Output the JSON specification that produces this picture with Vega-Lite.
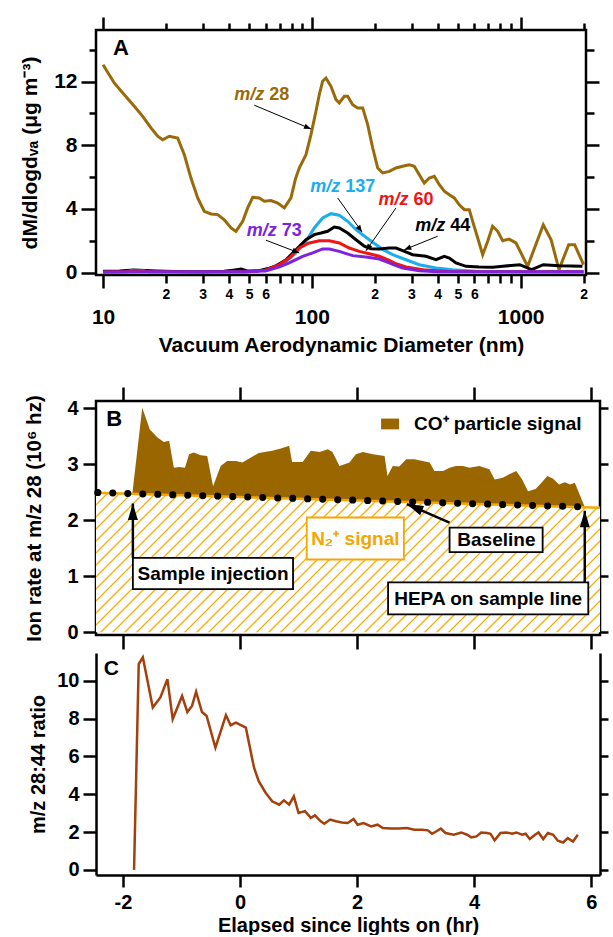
{
"$schema": "https://vega.github.io/schema/vega-lite/v6.json",
"background": "white",
"padding": {"left": 18, "top": 14, "right": 0, "bottom": 0},
"spacing": 27,
"config": {
  "font": "Liberation Sans",
  "view": {"stroke": "black", "strokeWidth": 2.5},
  "axis": {"grid": false, "domain": false, "labelFont": "Liberation Sans", "titleFont": "Liberation Sans", "labelFontWeight": "bold", "titleFontWeight": "bold", "labelColor": "black", "titleColor": "black", "tickColor": "black", "domainColor": "black", "tickWidth": 2.5, "domainWidth": 2.5, "labelFontSize": 20, "titleFontSize": 20, "labelOverlap": false, "labelFlush": false, "labelBound": false},
  "text": {"font": "Liberation Sans", "fontWeight": "bold"}
},
"datasets": {
  "A": [
    {"s":"m/z 28","d":10,"v":13.07},{"s":"m/z 28","d":11.31,"v":11.92},{"s":"m/z 28","d":12.64,"v":11.18},{"s":"m/z 28","d":14.11,"v":10.45},{"s":"m/z 28","d":15.48,"v":9.82},{"s":"m/z 28","d":16.96,"v":9.09},{"s":"m/z 28","d":18.26,"v":8.57},{"s":"m/z 28","d":19.29,"v":8.35},{"s":"m/z 28","d":20.76,"v":8.57},{"s":"m/z 28","d":22.77,"v":8.46},{"s":"m/z 28","d":24.49,"v":7.41},{"s":"m/z 28","d":26.36,"v":5.94},{"s":"m/z 28","d":28.39,"v":4.69},{"s":"m/z 28","d":30.52,"v":3.85},{"s":"m/z 28","d":32.87,"v":3.68},{"s":"m/z 28","d":35.39,"v":3.64},{"s":"m/z 28","d":38.07,"v":3.32},{"s":"m/z 28","d":40.99,"v":2.8},{"s":"m/z 28","d":43.3,"v":2.59},{"s":"m/z 28","d":46.64,"v":3.22},{"s":"m/z 28","d":49.27,"v":4.06},{"s":"m/z 28","d":52.07,"v":4.73},{"s":"m/z 28","d":55.99,"v":4.69},{"s":"m/z 28","d":59.16,"v":4.48},{"s":"m/z 28","d":63.7,"v":4.52},{"s":"m/z 28","d":68.6,"v":4.37},{"s":"m/z 28","d":73.8,"v":4.06},{"s":"m/z 28","d":79.4,"v":4.69},{"s":"m/z 28","d":83.5,"v":5.9},{"s":"m/z 28","d":87,"v":6.57},{"s":"m/z 28","d":93.7,"v":7.41},{"s":"m/z 28","d":99,"v":8.67},{"s":"m/z 28","d":104.6,"v":10.14},{"s":"m/z 28","d":108.5,"v":11.18},{"s":"m/z 28","d":112.6,"v":12.03},{"s":"m/z 28","d":116.8,"v":12.23},{"s":"m/z 28","d":123.4,"v":11.71},{"s":"m/z 28","d":130.5,"v":10.87},{"s":"m/z 28","d":135.3,"v":10.66},{"s":"m/z 28","d":143,"v":11.08},{"s":"m/z 28","d":148.4,"v":11.08},{"s":"m/z 28","d":156.8,"v":10.55},{"s":"m/z 28","d":165.7,"v":10.35},{"s":"m/z 28","d":175.1,"v":10.35},{"s":"m/z 28","d":185,"v":9.3},{"s":"m/z 28","d":195.6,"v":7.83},{"s":"m/z 28","d":206.7,"v":6.57},{"s":"m/z 28","d":218.3,"v":6.26},{"s":"m/z 28","d":234.8,"v":6.36},{"s":"m/z 28","d":252.8,"v":6.57},{"s":"m/z 28","d":272.2,"v":6.68},{"s":"m/z 28","d":292.7,"v":6.78},{"s":"m/z 28","d":309.3,"v":6.68},{"s":"m/z 28","d":326.9,"v":6.15},{"s":"m/z 28","d":345.4,"v":5.63},{"s":"m/z 28","d":365,"v":5.94},{"s":"m/z 28","d":385.8,"v":6.05},{"s":"m/z 28","d":407.6,"v":5.52},{"s":"m/z 28","d":430.7,"v":5.11},{"s":"m/z 28","d":455.1,"v":4.89},{"s":"m/z 28","d":480.8,"v":4.69},{"s":"m/z 28","d":508,"v":4.26},{"s":"m/z 28","d":537,"v":3.95},{"s":"m/z 28","d":567.4,"v":3.95},{"s":"m/z 28","d":589,"v":3.22},{"s":"m/z 28","d":622.5,"v":2.17},{"s":"m/z 28","d":657.7,"v":1.12},{"s":"m/z 28","d":695,"v":1.96},{"s":"m/z 28","d":734,"v":2.91},{"s":"m/z 28","d":776,"v":2.59},{"s":"m/z 28","d":820,"v":2.0},{"s":"m/z 28","d":880,"v":2.1},{"s":"m/z 28","d":949,"v":1.86},{"s":"m/z 28","d":1080,"v":0.39},{"s":"m/z 28","d":1283,"v":3.0},{"s":"m/z 28","d":1399,"v":2.06},{"s":"m/z 28","d":1526,"v":0.18},{"s":"m/z 28","d":1698,"v":1.75},{"s":"m/z 28","d":1813,"v":1.75},{"s":"m/z 28","d":2000,"v":0.49},
    {"s":"m/z 137","d":10,"v":0.03},{"s":"m/z 137","d":20,"v":0.04},{"s":"m/z 137","d":30,"v":0.04},{"s":"m/z 137","d":48.4,"v":0.05},{"s":"m/z 137","d":58.1,"v":0.14},{"s":"m/z 137","d":67.3,"v":0.39},{"s":"m/z 137","d":75.2,"v":0.7},{"s":"m/z 137","d":83.9,"v":1.23},{"s":"m/z 137","d":93.7,"v":1.96},{"s":"m/z 137","d":102.7,"v":2.8},{"s":"m/z 137","d":112.6,"v":3.43},{"s":"m/z 137","d":123.4,"v":3.7},{"s":"m/z 137","d":135.3,"v":3.6},{"s":"m/z 137","d":148.4,"v":3.22},{"s":"m/z 137","d":162.7,"v":2.69},{"s":"m/z 137","d":178.2,"v":2.3},{"s":"m/z 137","d":195.6,"v":1.9},{"s":"m/z 137","d":218.3,"v":1.45},{"s":"m/z 137","d":243.8,"v":1.12},{"s":"m/z 137","d":272.2,"v":0.88},{"s":"m/z 137","d":326.9,"v":0.49},{"s":"m/z 137","d":393,"v":0.28},{"s":"m/z 137","d":472,"v":0.18},{"s":"m/z 137","d":611,"v":0.08},{"s":"m/z 137","d":1060,"v":0.05},{"s":"m/z 137","d":2000,"v":0.05},
    {"s":"m/z 44","d":10,"v":0.08},{"s":"m/z 44","d":12,"v":0.1},{"s":"m/z 44","d":14,"v":0.15},{"s":"m/z 44","d":16,"v":0.12},{"s":"m/z 44","d":18,"v":0.1},{"s":"m/z 44","d":22,"v":0.07},{"s":"m/z 44","d":30,"v":0.05},{"s":"m/z 44","d":38,"v":0.08},{"s":"m/z 44","d":42,"v":0.15},{"s":"m/z 44","d":45.8,"v":0.22},{"s":"m/z 44","d":49,"v":0.1},{"s":"m/z 44","d":55,"v":0.1},{"s":"m/z 44","d":62,"v":0.25},{"s":"m/z 44","d":68,"v":0.45},{"s":"m/z 44","d":75.2,"v":0.8},{"s":"m/z 44","d":83.9,"v":1.43},{"s":"m/z 44","d":93.7,"v":2.06},{"s":"m/z 44","d":102.7,"v":2.38},{"s":"m/z 44","d":110.6,"v":2.48},{"s":"m/z 44","d":119,"v":2.59},{"s":"m/z 44","d":128,"v":2.86},{"s":"m/z 44","d":135.3,"v":2.8},{"s":"m/z 44","d":148.4,"v":2.48},{"s":"m/z 44","d":162.7,"v":2.06},{"s":"m/z 44","d":178.2,"v":1.65},{"s":"m/z 44","d":191.9,"v":1.5},{"s":"m/z 44","d":210.3,"v":1.48},{"s":"m/z 44","d":234.8,"v":1.54},{"s":"m/z 44","d":252.8,"v":1.54},{"s":"m/z 44","d":272.2,"v":1.37},{"s":"m/z 44","d":303.9,"v":1.12},{"s":"m/z 44","d":352,"v":1.02},{"s":"m/z 44","d":393,"v":0.81},{"s":"m/z 44","d":430.7,"v":1.02},{"s":"m/z 44","d":455.1,"v":0.91},{"s":"m/z 44","d":489.8,"v":0.6},{"s":"m/z 44","d":547,"v":0.39},{"s":"m/z 44","d":633,"v":0.35},{"s":"m/z 44","d":734,"v":0.33},{"s":"m/z 44","d":820,"v":0.39},{"s":"m/z 44","d":990,"v":0.49},{"s":"m/z 44","d":1128,"v":0.18},{"s":"m/z 44","d":1283,"v":0.49},{"s":"m/z 44","d":1526,"v":0.43},{"s":"m/z 44","d":1975,"v":0.39},
    {"s":"m/z 60","d":10,"v":0.03},{"s":"m/z 60","d":13,"v":0.04},{"s":"m/z 60","d":13.5,"v":0.12},{"s":"m/z 60","d":15.6,"v":0.12},{"s":"m/z 60","d":16.5,"v":0.04},{"s":"m/z 60","d":30,"v":0.03},{"s":"m/z 60","d":50,"v":0.04},{"s":"m/z 60","d":60,"v":0.15},{"s":"m/z 60","d":70,"v":0.5},{"s":"m/z 60","d":77.9,"v":0.91},{"s":"m/z 60","d":87,"v":1.54},{"s":"m/z 60","d":97.2,"v":1.86},{"s":"m/z 60","d":108.5,"v":2.0},{"s":"m/z 60","d":121.2,"v":2.0},{"s":"m/z 60","d":135.3,"v":1.86},{"s":"m/z 60","d":151.1,"v":1.54},{"s":"m/z 60","d":168.7,"v":1.33},{"s":"m/z 60","d":188.3,"v":1.18},{"s":"m/z 60","d":210.3,"v":1.02},{"s":"m/z 60","d":234.8,"v":0.77},{"s":"m/z 60","d":252.8,"v":0.55},{"s":"m/z 60","d":282.3,"v":0.35},{"s":"m/z 60","d":352,"v":0.15},{"s":"m/z 60","d":450,"v":0.07},{"s":"m/z 60","d":700,"v":0.04},{"s":"m/z 60","d":2000,"v":0.04},
    {"s":"m/z 73","d":10,"v":0.03},{"s":"m/z 73","d":18,"v":0.05},{"s":"m/z 73","d":30,"v":0.05},{"s":"m/z 73","d":48,"v":0.05},{"s":"m/z 73","d":60,"v":0.1},{"s":"m/z 73","d":70,"v":0.35},{"s":"m/z 73","d":77.9,"v":0.6},{"s":"m/z 73","d":90.3,"v":1.02},{"s":"m/z 73","d":100.9,"v":1.23},{"s":"m/z 73","d":112.6,"v":1.48},{"s":"m/z 73","d":121.2,"v":1.48},{"s":"m/z 73","d":135.3,"v":1.33},{"s":"m/z 73","d":156.8,"v":1.06},{"s":"m/z 73","d":181.6,"v":0.97},{"s":"m/z 73","d":210.3,"v":0.85},{"s":"m/z 73","d":234.8,"v":0.6},{"s":"m/z 73","d":252.8,"v":0.43},{"s":"m/z 73","d":272.2,"v":0.28},{"s":"m/z 73","d":326.9,"v":0.11},{"s":"m/z 73","d":400,"v":0.05},{"s":"m/z 73","d":2000,"v":0.05}
  ],
  "Alab": [
    {"s":"m/z 28","d":60.8,"v":11.14,"n":"28"},
    {"s":"m/z 137","d":140.4,"v":5.38,"n":"137"},
    {"s":"m/z 60","d":298.3,"v":4.58,"n":"60"},
    {"s":"m/z 44","d":447.2,"v":2.91,"n":"44"},
    {"s":"m/z 73","d":69.8,"v":2.59,"n":"73"}
  ],
  "Aarr": [
    {"id":"28","d1":53.0,"v1":10.52,"d2":99.0,"v2":9.03},
    {"id":"137","d1":132.9,"v1":4.69,"d2":173.8,"v2":2.55},
    {"id":"60","d1":252.8,"v1":4.06,"d2":181.6,"v2":1.37},
    {"id":"44","d1":400.4,"v1":2.28,"d2":277.0,"v2":1.43},
    {"id":"73","d1":60.3,"v1":2.03,"d2":87.0,"v2":1.23}
  ],
  "Bbase": [{"t":-2.46,"base":2.49},{"t":6.15,"base":2.225}],
  "Bdots": [{"t":-2.43,"v":2.495},{"t":5.98,"v":2.235}],
  "Bco": [
    {"t":-1.84,"hi":2.47,"lo":2.47},{"t":-1.67,"hi":4.01,"lo":2.465},{"t":-1.54,"hi":3.62,"lo":2.461},{"t":-1.41,"hi":3.48,"lo":2.457},{"t":-1.3,"hi":3.4,"lo":2.454},{"t":-1.21,"hi":3.42,"lo":2.451},{"t":-1.13,"hi":2.94,"lo":2.448},{"t":-1.04,"hi":2.95,"lo":2.446},{"t":-0.94,"hi":2.94,"lo":2.443},{"t":-0.87,"hi":3.18,"lo":2.44},{"t":-0.79,"hi":3.21,"lo":2.438},{"t":-0.67,"hi":3.16,"lo":2.434},{"t":-0.56,"hi":3.15,"lo":2.431},{"t":-0.46,"hi":2.61,"lo":2.428},{"t":-0.33,"hi":2.97,"lo":2.424},{"t":-0.22,"hi":3.06,"lo":2.421},{"t":-0.07,"hi":3.06,"lo":2.416},{"t":0.04,"hi":3.03,"lo":2.413},{"t":0.15,"hi":3.1,"lo":2.409},{"t":0.32,"hi":3.2,"lo":2.404},{"t":0.55,"hi":3.24,"lo":2.397},{"t":0.7,"hi":3.28,"lo":2.392},{"t":0.84,"hi":3.33,"lo":2.388},{"t":0.89,"hi":3.04,"lo":2.386},{"t":1.07,"hi":3.04,"lo":2.38},{"t":1.21,"hi":3.24,"lo":2.376},{"t":1.36,"hi":3.22,"lo":2.371},{"t":1.5,"hi":3.27,"lo":2.367},{"t":1.58,"hi":3.22,"lo":2.365},{"t":1.7,"hi":2.97,"lo":2.361},{"t":1.87,"hi":3.03,"lo":2.356},{"t":1.98,"hi":3.18,"lo":2.352},{"t":2.1,"hi":3.22,"lo":2.349},{"t":2.27,"hi":3.18,"lo":2.343},{"t":2.47,"hi":3.15,"lo":2.337},{"t":2.52,"hi":2.79,"lo":2.336},{"t":2.61,"hi":2.97,"lo":2.333},{"t":2.72,"hi":2.96,"lo":2.329},{"t":2.84,"hi":3.09,"lo":2.326},{"t":2.98,"hi":3.09,"lo":2.321},{"t":3.12,"hi":3.06,"lo":2.317},{"t":3.24,"hi":3.03,"lo":2.313},{"t":3.32,"hi":2.88,"lo":2.311},{"t":3.47,"hi":2.88,"lo":2.306},{"t":3.58,"hi":2.94,"lo":2.303},{"t":3.69,"hi":2.97,"lo":2.299},{"t":3.81,"hi":2.97,"lo":2.296},{"t":3.92,"hi":2.94,"lo":2.292},{"t":4.09,"hi":2.97,"lo":2.287},{"t":4.26,"hi":2.91,"lo":2.282},{"t":4.35,"hi":2.73,"lo":2.279},{"t":4.49,"hi":2.76,"lo":2.275},{"t":4.6,"hi":2.82,"lo":2.271},{"t":4.72,"hi":2.88,"lo":2.268},{"t":4.82,"hi":2.73,"lo":2.265},{"t":4.92,"hi":2.52,"lo":2.262},{"t":5.05,"hi":2.56,"lo":2.258},{"t":5.15,"hi":2.67,"lo":2.255},{"t":5.25,"hi":2.79,"lo":2.252},{"t":5.35,"hi":2.74,"lo":2.249},{"t":5.45,"hi":2.64,"lo":2.246},{"t":5.55,"hi":2.68,"lo":2.243},{"t":5.64,"hi":2.64,"lo":2.24},{"t":5.72,"hi":2.67,"lo":2.237},{"t":5.89,"hi":2.236,"lo":2.236}
  ],
  "Bleg": [{"t":2.564,"v":3.72,"label":"CO⁺ particle signal"}],
  "Bbox": [
    {"label":"Sample injection","x1":-1.83,"x2":0.906,"y1":0.77,"y2":1.33,"tx":-0.46,"ty":1.05},
    {"label":"N₂⁺ signal","x1":1.14,"x2":2.8,"y1":1.3,"y2":2.05,"tx":1.97,"ty":1.66},
    {"label":"Baseline","x1":3.58,"x2":5.17,"y1":1.43,"y2":1.87,"tx":4.38,"ty":1.65},
    {"label":"HEPA on sample line","x1":2.53,"x2":5.95,"y1":0.32,"y2":0.89,"tx":4.24,"ty":0.6}
  ],
  "Barr": [
    {"id":"s","t1":-1.83,"v1":1.33,"t2":-1.83,"v2":2.3},
    {"id":"h","t1":5.89,"v1":0.89,"t2":5.89,"v2":2.17},
    {"id":"b","t1":3.58,"v1":1.96,"t2":2.85,"v2":2.29}
  ],
  "C": [
    {"t":-1.81,"r":0},{"t":-1.73,"r":10.89},{"t":-1.66,"r":11.24},{"t":-1.58,"r":10.0},{"t":-1.49,"r":8.59},{"t":-1.36,"r":9.12},{"t":-1.24,"r":10.09},{"t":-1.15,"r":7.97},{"t":-0.99,"r":9.2},{"t":-0.9,"r":8.35},{"t":-0.82,"r":8.67},{"t":-0.75,"r":9.42},{"t":-0.65,"r":8.35},{"t":-0.57,"r":8.14},{"t":-0.42,"r":6.46},{"t":-0.24,"r":8.18},{"t":-0.16,"r":7.65},{"t":-0.07,"r":7.79},{"t":0.1,"r":7.52},{"t":0.24,"r":5.4},{"t":0.32,"r":4.69},{"t":0.44,"r":4.07},{"t":0.55,"r":3.63},{"t":0.67,"r":3.45},{"t":0.75,"r":3.68},{"t":0.84,"r":3.45},{"t":0.92,"r":3.89},{"t":1.0,"r":3.01},{"t":1.11,"r":3.11},{"t":1.21,"r":2.75},{"t":1.28,"r":2.88},{"t":1.38,"r":2.57},{"t":1.44,"r":2.44},{"t":1.54,"r":2.66},{"t":1.64,"r":2.57},{"t":1.74,"r":2.51},{"t":1.84,"r":2.48},{"t":1.94,"r":2.69},{"t":2.01,"r":2.39},{"t":2.11,"r":2.48},{"t":2.24,"r":2.3},{"t":2.35,"r":2.39},{"t":2.44,"r":2.21},{"t":2.58,"r":2.19},{"t":2.71,"r":2.19},{"t":2.85,"r":2.21},{"t":2.98,"r":2.12},{"t":3.11,"r":2.12},{"t":3.21,"r":2.09},{"t":3.28,"r":1.91},{"t":3.35,"r":2.03},{"t":3.43,"r":2.19},{"t":3.51,"r":1.95},{"t":3.65,"r":1.86},{"t":3.78,"r":1.98},{"t":3.88,"r":1.86},{"t":3.95,"r":1.72},{"t":4.04,"r":1.77},{"t":4.12,"r":1.98},{"t":4.22,"r":1.95},{"t":4.28,"r":1.91},{"t":4.35,"r":1.56},{"t":4.45,"r":1.95},{"t":4.55,"r":1.98},{"t":4.65,"r":1.91},{"t":4.72,"r":1.98},{"t":4.82,"r":1.86},{"t":4.88,"r":1.91},{"t":4.95,"r":1.63},{"t":5.04,"r":1.86},{"t":5.1,"r":1.98},{"t":5.18,"r":1.63},{"t":5.26,"r":1.95},{"t":5.35,"r":1.86},{"t":5.43,"r":1.54},{"t":5.52,"r":1.45},{"t":5.6,"r":1.68},{"t":5.69,"r":1.5},{"t":5.77,"r":1.86}
  ]
},
"vconcat": [
  {
    "width": 490, "height": 245,
    "resolve": {"axis": {"x": "independent", "y": "independent"}},
    "layer": [
      {
        "data": {"name": "A"},
        "mark": {"type": "line", "strokeWidth": 3, "clip": true},
        "encoding": {
          "x": {"field": "d", "type": "quantitative", "scale": {"type": "log", "domain": [9.25, 2055], "nice": false},
            "axis": {"orient": "bottom", "values": [10,20,30,40,50,60,70,80,90,100,200,300,400,500,600,700,800,900,1000,2000],
              "labelExpr": "datum.value == 10 || datum.value == 100 || datum.value == 1000 ? toString(datum.value) : ((datum.value % 100 >= 70) || (datum.value >= 700 && datum.value <= 900)) ? '' : substring(toString(datum.value), 0, 1)",
              "tickSize": {"condition": {"test": "datum.value == 10 || datum.value == 100 || datum.value == 1000", "value": 13}, "value": 8},
              "labelFontSize": {"condition": {"test": "datum.value == 10 || datum.value == 100 || datum.value == 1000", "value": 21}, "value": 14},
              "labelPadding": {"condition": {"test": "datum.value == 10 || datum.value == 100 || datum.value == 1000", "value": 18}, "value": 4},
              "title": "Vacuum Aerodynamic Diameter (nm)", "titleFontSize": 21, "titlePadding": 7}},
          "y": {"field": "v", "type": "quantitative", "scale": {"domain": [-0.157, 15.25], "nice": false, "zero": false},
            "axis": {"orient": "left", "values": [0,2,4,6,8,10,12,14], "labelExpr": "datum.value % 4 == 0 ? datum.label : ''",
              "tickSize": {"condition": {"test": "datum.value % 4 == 0", "value": 15}, "value": 7},
              "labelFontSize": 21, "labelPadding": 4, "title": "dM/dlogdᵥₐ (μg m⁻³)", "titleFontSize": 21, "titlePadding": 13}},
          "color": {"field": "s", "type": "nominal", "scale": {"domain": ["m/z 28","m/z 137","m/z 44","m/z 60","m/z 73"], "range": ["#9A6A0A","#1AAEF0","#000000","#F01414","#7E22E0"]}, "legend": null}
        }
      },
      {
        "data": {"values": [{"d": 12.18, "v": 14.12, "t": "A"}]},
        "mark": {"type": "text", "fontSize": 22, "color": "black"},
        "encoding": {
          "x": {"field": "d", "type": "quantitative", "scale": {"type": "log", "domain": [9.25, 2055], "nice": false},
            "axis": {"orient": "top", "values": [10,20,30,40,50,60,70,80,90,100,200,300,400,500,600,700,800,900,1000,2000], "labels": false, "title": null,
              "tickSize": {"condition": {"test": "datum.value == 10 || datum.value == 100 || datum.value == 1000", "value": 13}, "value": 7}}},
          "y": {"field": "v", "type": "quantitative", "scale": {"domain": [-0.157, 15.25], "nice": false, "zero": false},
            "axis": {"orient": "right", "values": [0,2,4,6,8,10,12,14], "labels": false, "title": null,
              "tickSize": {"condition": {"test": "datum.value % 4 == 0", "value": 13}, "value": 8}}},
          "text": {"field": "t"}
        }
      },
      {
        "data": {"name": "Alab"},
        "mark": {"type": "text", "fontSize": 18, "fontStyle": "italic", "align": "right", "baseline": "middle", "dx": -2.5},
        "encoding": {
          "x": {"field": "d", "type": "quantitative", "scale": {"type": "log", "domain": [9.25, 2055], "nice": false}, "axis": null},
          "y": {"field": "v", "type": "quantitative", "scale": {"domain": [-0.157, 15.25], "nice": false, "zero": false}, "axis": null},
          "text": {"value": "m/z"},
          "color": {"field": "s", "type": "nominal", "legend": null}
        }
      },
      {
        "data": {"name": "Alab"},
        "mark": {"type": "text", "fontSize": 18, "align": "left", "baseline": "middle", "dx": 2.5},
        "encoding": {
          "x": {"field": "d", "type": "quantitative", "scale": {"type": "log", "domain": [9.25, 2055], "nice": false}, "axis": null},
          "y": {"field": "v", "type": "quantitative", "scale": {"domain": [-0.157, 15.25], "nice": false, "zero": false}, "axis": null},
          "text": {"field": "n"},
          "color": {"field": "s", "type": "nominal", "legend": null}
        }
      },
      {
        "data": {"name": "Aarr"},
        "mark": {"type": "rule", "strokeWidth": 1, "color": "black"},
        "encoding": {
          "x": {"field": "d1", "type": "quantitative", "scale": {"type": "log", "domain": [9.25, 2055], "nice": false}, "axis": null},
          "y": {"field": "v1", "type": "quantitative", "scale": {"domain": [-0.157, 15.25], "nice": false, "zero": false}, "axis": null},
          "x2": {"field": "d2"},
          "y2": {"field": "v2"}
        }
      },
      {
        "data": {"name": "Aarr"},
        "transform": [{"filter": "datum.id == '28'"}],
        "mark": {"type": "point", "filled": true, "opacity": 1, "color": "black", "shape": "M0,0L-0.4,1L0.4,1Z", "size": 196, "angle": 112.7},
        "encoding": {
          "x": {"field": "d2", "type": "quantitative", "scale": {"type": "log", "domain": [9.25, 2055], "nice": false}, "axis": null},
          "y": {"field": "v2", "type": "quantitative", "scale": {"domain": [-0.157, 15.25], "nice": false, "zero": false}, "axis": null}
        }
      },
      {
        "data": {"name": "Aarr"},
        "transform": [{"filter": "datum.id == '137'"}],
        "mark": {"type": "point", "filled": true, "opacity": 1, "color": "black", "shape": "M0,0L-0.4,1L0.4,1Z", "size": 196, "angle": 144.4},
        "encoding": {
          "x": {"field": "d2", "type": "quantitative", "scale": {"type": "log", "domain": [9.25, 2055], "nice": false}, "axis": null},
          "y": {"field": "v2", "type": "quantitative", "scale": {"domain": [-0.157, 15.25], "nice": false, "zero": false}, "axis": null}
        }
      },
      {
        "data": {"name": "Aarr"},
        "transform": [{"filter": "datum.id == '60'"}],
        "mark": {"type": "point", "filled": true, "opacity": 1, "color": "black", "shape": "M0,0L-0.4,1L0.4,1Z", "size": 196, "angle": 215.1},
        "encoding": {
          "x": {"field": "d2", "type": "quantitative", "scale": {"type": "log", "domain": [9.25, 2055], "nice": false}, "axis": null},
          "y": {"field": "v2", "type": "quantitative", "scale": {"domain": [-0.157, 15.25], "nice": false, "zero": false}, "axis": null}
        }
      },
      {
        "data": {"name": "Aarr"},
        "transform": [{"filter": "datum.id == '44'"}],
        "mark": {"type": "point", "filled": true, "opacity": 1, "color": "black", "shape": "M0,0L-0.4,1L0.4,1Z", "size": 196, "angle": 248.1},
        "encoding": {
          "x": {"field": "d2", "type": "quantitative", "scale": {"type": "log", "domain": [9.25, 2055], "nice": false}, "axis": null},
          "y": {"field": "v2", "type": "quantitative", "scale": {"domain": [-0.157, 15.25], "nice": false, "zero": false}, "axis": null}
        }
      },
      {
        "data": {"name": "Aarr"},
        "transform": [{"filter": "datum.id == '73'"}],
        "mark": {"type": "point", "filled": true, "opacity": 1, "color": "black", "shape": "M0,0L-0.4,1L0.4,1Z", "size": 196, "angle": 110.9},
        "encoding": {
          "x": {"field": "d2", "type": "quantitative", "scale": {"type": "log", "domain": [9.25, 2055], "nice": false}, "axis": null},
          "y": {"field": "v2", "type": "quantitative", "scale": {"domain": [-0.157, 15.25], "nice": false, "zero": false}, "axis": null}
        }
      }
    ]
  },
  {
    "spacing": 0,
    "vconcat": [
      {
        "width": 504, "height": 234,
        "resolve": {"axis": {"x": "independent", "y": "independent"}},
        "layer": [
          {
            "data": {"name": "Bbase"},
            "mark": {"type": "area", "opacity": 1, "color": {"gradient": "linear", "x1": 0, "y1": 0, "x2": 1.1944, "y2": 0.3304, "stops": [
              {"offset":0,"color":"#F5A600"},{"offset":0.0025,"color":"#fff"},
              {"offset":0.016,"color":"#fff"},{"offset":0.0185,"color":"#F5A600"},{"offset":0.021,"color":"#fff"},
              {"offset":0.0345,"color":"#fff"},{"offset":0.037,"color":"#F5A600"},{"offset":0.0395,"color":"#fff"},
              {"offset":0.0531,"color":"#fff"},{"offset":0.0556,"color":"#F5A600"},{"offset":0.0581,"color":"#fff"},
              {"offset":0.0716,"color":"#fff"},{"offset":0.0741,"color":"#F5A600"},{"offset":0.0766,"color":"#fff"},
              {"offset":0.0901,"color":"#fff"},{"offset":0.0926,"color":"#F5A600"},{"offset":0.0951,"color":"#fff"},
              {"offset":0.1086,"color":"#fff"},{"offset":0.1111,"color":"#F5A600"},{"offset":0.1136,"color":"#fff"},
              {"offset":0.1271,"color":"#fff"},{"offset":0.1296,"color":"#F5A600"},{"offset":0.1321,"color":"#fff"},
              {"offset":0.1456,"color":"#fff"},{"offset":0.1481,"color":"#F5A600"},{"offset":0.1506,"color":"#fff"},
              {"offset":0.1642,"color":"#fff"},{"offset":0.1667,"color":"#F5A600"},{"offset":0.1692,"color":"#fff"},
              {"offset":0.1827,"color":"#fff"},{"offset":0.1852,"color":"#F5A600"},{"offset":0.1877,"color":"#fff"},
              {"offset":0.2012,"color":"#fff"},{"offset":0.2037,"color":"#F5A600"},{"offset":0.2062,"color":"#fff"},
              {"offset":0.2197,"color":"#fff"},{"offset":0.2222,"color":"#F5A600"},{"offset":0.2247,"color":"#fff"},
              {"offset":0.2382,"color":"#fff"},{"offset":0.2407,"color":"#F5A600"},{"offset":0.2432,"color":"#fff"},
              {"offset":0.2568,"color":"#fff"},{"offset":0.2593,"color":"#F5A600"},{"offset":0.2618,"color":"#fff"},
              {"offset":0.2753,"color":"#fff"},{"offset":0.2778,"color":"#F5A600"},{"offset":0.2803,"color":"#fff"},
              {"offset":0.2938,"color":"#fff"},{"offset":0.2963,"color":"#F5A600"},{"offset":0.2988,"color":"#fff"},
              {"offset":0.3123,"color":"#fff"},{"offset":0.3148,"color":"#F5A600"},{"offset":0.3173,"color":"#fff"},
              {"offset":0.3308,"color":"#fff"},{"offset":0.3333,"color":"#F5A600"},{"offset":0.3358,"color":"#fff"},
              {"offset":0.3494,"color":"#fff"},{"offset":0.3519,"color":"#F5A600"},{"offset":0.3544,"color":"#fff"},
              {"offset":0.3679,"color":"#fff"},{"offset":0.3704,"color":"#F5A600"},{"offset":0.3729,"color":"#fff"},
              {"offset":0.3864,"color":"#fff"},{"offset":0.3889,"color":"#F5A600"},{"offset":0.3914,"color":"#fff"},
              {"offset":0.4049,"color":"#fff"},{"offset":0.4074,"color":"#F5A600"},{"offset":0.4099,"color":"#fff"},
              {"offset":0.4234,"color":"#fff"},{"offset":0.4259,"color":"#F5A600"},{"offset":0.4284,"color":"#fff"},
              {"offset":0.4419,"color":"#fff"},{"offset":0.4444,"color":"#F5A600"},{"offset":0.4469,"color":"#fff"},
              {"offset":0.4605,"color":"#fff"},{"offset":0.463,"color":"#F5A600"},{"offset":0.4655,"color":"#fff"},
              {"offset":0.479,"color":"#fff"},{"offset":0.4815,"color":"#F5A600"},{"offset":0.484,"color":"#fff"},
              {"offset":0.4975,"color":"#fff"},{"offset":0.5,"color":"#F5A600"},{"offset":0.5025,"color":"#fff"},
              {"offset":0.516,"color":"#fff"},{"offset":0.5185,"color":"#F5A600"},{"offset":0.521,"color":"#fff"},
              {"offset":0.5345,"color":"#fff"},{"offset":0.537,"color":"#F5A600"},{"offset":0.5395,"color":"#fff"},
              {"offset":0.5531,"color":"#fff"},{"offset":0.5556,"color":"#F5A600"},{"offset":0.5581,"color":"#fff"},
              {"offset":0.5716,"color":"#fff"},{"offset":0.5741,"color":"#F5A600"},{"offset":0.5766,"color":"#fff"},
              {"offset":0.5901,"color":"#fff"},{"offset":0.5926,"color":"#F5A600"},{"offset":0.5951,"color":"#fff"},
              {"offset":0.6086,"color":"#fff"},{"offset":0.6111,"color":"#F5A600"},{"offset":0.6136,"color":"#fff"},
              {"offset":0.6271,"color":"#fff"},{"offset":0.6296,"color":"#F5A600"},{"offset":0.6321,"color":"#fff"},
              {"offset":0.6456,"color":"#fff"},{"offset":0.6481,"color":"#F5A600"},{"offset":0.6506,"color":"#fff"},
              {"offset":0.6642,"color":"#fff"},{"offset":0.6667,"color":"#F5A600"},{"offset":0.6692,"color":"#fff"},
              {"offset":0.6827,"color":"#fff"},{"offset":0.6852,"color":"#F5A600"},{"offset":0.6877,"color":"#fff"},
              {"offset":0.7012,"color":"#fff"},{"offset":0.7037,"color":"#F5A600"},{"offset":0.7062,"color":"#fff"},
              {"offset":0.7197,"color":"#fff"},{"offset":0.7222,"color":"#F5A600"},{"offset":0.7247,"color":"#fff"},
              {"offset":0.7382,"color":"#fff"},{"offset":0.7407,"color":"#F5A600"},{"offset":0.7432,"color":"#fff"},
              {"offset":0.7568,"color":"#fff"},{"offset":0.7593,"color":"#F5A600"},{"offset":0.7618,"color":"#fff"},
              {"offset":0.7753,"color":"#fff"},{"offset":0.7778,"color":"#F5A600"},{"offset":0.7803,"color":"#fff"},
              {"offset":0.7938,"color":"#fff"},{"offset":0.7963,"color":"#F5A600"},{"offset":0.7988,"color":"#fff"},
              {"offset":0.8123,"color":"#fff"},{"offset":0.8148,"color":"#F5A600"},{"offset":0.8173,"color":"#fff"},
              {"offset":0.8308,"color":"#fff"},{"offset":0.8333,"color":"#F5A600"},{"offset":0.8358,"color":"#fff"},
              {"offset":0.8494,"color":"#fff"},{"offset":0.8519,"color":"#F5A600"},{"offset":0.8544,"color":"#fff"},
              {"offset":0.8679,"color":"#fff"},{"offset":0.8704,"color":"#F5A600"},{"offset":0.8729,"color":"#fff"},
              {"offset":0.8864,"color":"#fff"},{"offset":0.8889,"color":"#F5A600"},{"offset":0.8914,"color":"#fff"},
              {"offset":0.9049,"color":"#fff"},{"offset":0.9074,"color":"#F5A600"},{"offset":0.9099,"color":"#fff"},
              {"offset":0.9234,"color":"#fff"},{"offset":0.9259,"color":"#F5A600"},{"offset":0.9284,"color":"#fff"},
              {"offset":0.9419,"color":"#fff"},{"offset":0.9444,"color":"#F5A600"},{"offset":0.9469,"color":"#fff"},
              {"offset":0.9605,"color":"#fff"},{"offset":0.963,"color":"#F5A600"},{"offset":0.9655,"color":"#fff"},
              {"offset":0.979,"color":"#fff"},{"offset":0.9815,"color":"#F5A600"},{"offset":0.984,"color":"#fff"},
              {"offset":1,"color":"#fff"}
            ]}},
            "encoding": {
              "x": {"field": "t", "type": "quantitative", "scale": {"domain": [-2.46, 6.15], "nice": false, "zero": false},
                "axis": {"orient": "bottom", "values": [-2,0,2,4,6], "labels": false, "title": null, "tickSize": 14}},
              "y": {"field": "base", "type": "quantitative", "scale": {"domain": [-0.048, 4.13], "nice": false, "zero": false},
                "axis": {"orient": "left", "values": [0,1,2,3,4], "tickSize": 13, "labelPadding": 5, "labelFontSize": 20, "title": "Ion rate at m/z 28 (10⁶ hz)", "titleFontSize": 20.5, "titlePadding": 22}},
              "y2": {"datum": 0}
            }
          },
          {
            "data": {"name": "Bco"},
            "mark": {"type": "area", "opacity": 1, "color": "#996600"},
            "encoding": {
              "x": {"field": "t", "type": "quantitative", "scale": {"domain": [-2.46, 6.15], "nice": false, "zero": false}, "axis": null},
              "y": {"field": "hi", "type": "quantitative", "scale": {"domain": [-0.048, 4.13], "nice": false, "zero": false}, "axis": null},
              "y2": {"field": "lo"}
            }
          },
          {
            "data": {"name": "Bbase"},
            "mark": {"type": "line", "color": "#F5A600", "strokeWidth": 2.5},
            "encoding": {
              "x": {"field": "t", "type": "quantitative", "scale": {"domain": [-2.46, 6.15], "nice": false, "zero": false},
                "axis": {"orient": "top", "values": [-2,0,2,4,6], "labels": false, "title": null, "tickSize": 14}},
              "y": {"field": "base", "type": "quantitative", "scale": {"domain": [-0.048, 4.13], "nice": false, "zero": false},
                "axis": {"orient": "right", "values": [0,1,2,3,4], "labels": false, "title": null, "tickSize": 8}}
            }
          },
          {
            "data": {"name": "Bdots"},
            "mark": {"type": "line", "color": "black", "strokeWidth": 7, "strokeDash": [0.1, 14.9], "strokeCap": "round"},
            "encoding": {
              "x": {"field": "t", "type": "quantitative", "scale": {"domain": [-2.46, 6.15], "nice": false, "zero": false}, "axis": null},
              "y": {"field": "v", "type": "quantitative", "scale": {"domain": [-0.048, 4.13], "nice": false, "zero": false}, "axis": null}
            }
          },
          {
            "data": {"name": "Bleg"},
            "mark": {"type": "point", "filled": true, "opacity": 1, "color": "#996600", "shape": "M-1,-0.6L1,-0.6L1,0.6L-1,0.6Z", "size": 324},
            "encoding": {
              "x": {"field": "t", "type": "quantitative", "scale": {"domain": [-2.46, 6.15], "nice": false, "zero": false}, "axis": null},
              "y": {"field": "v", "type": "quantitative", "scale": {"domain": [-0.048, 4.13], "nice": false, "zero": false}, "axis": null}
            }
          },
          {
            "data": {"name": "Bleg"},
            "mark": {"type": "text", "fontSize": 19, "align": "left", "baseline": "middle", "dx": 24, "color": "black"},
            "encoding": {
              "x": {"field": "t", "type": "quantitative", "scale": {"domain": [-2.46, 6.15], "nice": false, "zero": false}, "axis": null},
              "y": {"field": "v", "type": "quantitative", "scale": {"domain": [-0.048, 4.13], "nice": false, "zero": false}, "axis": null},
              "text": {"field": "label"}
            }
          },
          {
            "data": {"name": "Bbox"},
            "mark": {"type": "rect", "fill": "white", "strokeWidth": 1.8},
            "encoding": {
              "x": {"field": "x1", "type": "quantitative", "scale": {"domain": [-2.46, 6.15], "nice": false, "zero": false}, "axis": null},
              "x2": {"field": "x2"},
              "y": {"field": "y1", "type": "quantitative", "scale": {"domain": [-0.048, 4.13], "nice": false, "zero": false}, "axis": null},
              "y2": {"field": "y2"},
              "stroke": {"condition": {"test": "datum.label == 'N₂⁺ signal'", "value": "#F5A600"}, "value": "black"}
            }
          },
          {
            "data": {"name": "Bbox"},
            "mark": {"type": "text", "fontSize": 19, "baseline": "middle"},
            "encoding": {
              "x": {"field": "tx", "type": "quantitative", "scale": {"domain": [-2.46, 6.15], "nice": false, "zero": false}, "axis": null},
              "y": {"field": "ty", "type": "quantitative", "scale": {"domain": [-0.048, 4.13], "nice": false, "zero": false}, "axis": null},
              "text": {"field": "label"},
              "color": {"condition": {"test": "datum.label == 'N₂⁺ signal'", "value": "#F5A600"}, "value": "black"}
            }
          },
          {
            "data": {"name": "Barr"},
            "mark": {"type": "rule", "strokeWidth": 2.5, "color": "black"},
            "encoding": {
              "x": {"field": "t1", "type": "quantitative", "scale": {"domain": [-2.46, 6.15], "nice": false, "zero": false}, "axis": null},
              "y": {"field": "v1", "type": "quantitative", "scale": {"domain": [-0.048, 4.13], "nice": false, "zero": false}, "axis": null},
              "x2": {"field": "t2"},
              "y2": {"field": "v2"}
            }
          },
          {
            "data": {"name": "Barr"},
            "transform": [{"filter": "datum.id != 'b'"}],
            "mark": {"type": "point", "filled": true, "opacity": 1, "color": "black", "shape": "M0,0L-0.3,1L0.3,1Z", "size": 1100, "angle": 0},
            "encoding": {
              "x": {"field": "t2", "type": "quantitative", "scale": {"domain": [-2.46, 6.15], "nice": false, "zero": false}, "axis": null},
              "y": {"field": "v2", "type": "quantitative", "scale": {"domain": [-0.048, 4.13], "nice": false, "zero": false}, "axis": null}
            }
          },
          {
            "data": {"name": "Barr"},
            "transform": [{"filter": "datum.id == 'b'"}],
            "mark": {"type": "point", "filled": true, "opacity": 1, "color": "black", "shape": "M0,0L-0.3,1L0.3,1Z", "size": 1100, "angle": 293.2},
            "encoding": {
              "x": {"field": "t2", "type": "quantitative", "scale": {"domain": [-2.46, 6.15], "nice": false, "zero": false}, "axis": null},
              "y": {"field": "v2", "type": "quantitative", "scale": {"domain": [-0.048, 4.13], "nice": false, "zero": false}, "axis": null}
            }
          },
          {
            "data": {"values": [{"t": -2.15, "v": 3.8, "s": "B"}]},
            "mark": {"type": "text", "fontSize": 22, "color": "black"},
            "encoding": {
              "x": {"field": "t", "type": "quantitative", "scale": {"domain": [-2.46, 6.15], "nice": false, "zero": false}, "axis": null},
              "y": {"field": "v", "type": "quantitative", "scale": {"domain": [-0.048, 4.13], "nice": false, "zero": false}, "axis": null},
              "text": {"field": "s"}
            }
          }
        ]
      },
      {
        "width": 504, "height": 222,
        "view": {"stroke": null},
        "resolve": {"axis": {"x": "independent", "y": "independent"}},
        "layer": [
          {
            "data": {"name": "C"},
            "mark": {"type": "line", "color": "#A3400C", "strokeWidth": 2.5},
            "encoding": {
              "x": {"field": "t", "type": "quantitative", "scale": {"domain": [-2.46, 6.15], "nice": false, "zero": false},
                "axis": {"orient": "bottom", "values": [-2,0,2,4,6], "labelExpr": "toString(datum.value)", "domain": true, "tickSize": 12, "labelPadding": 5, "labelFontSize": 20, "title": "Elapsed since lights on (hr)", "titlePadding": 3}},
              "y": {"field": "r", "type": "quantitative", "scale": {"domain": [-0.27, 11.47], "nice": false, "zero": false},
                "axis": {"orient": "left", "values": [0,2,4,6,8,10], "domain": true, "tickSize": 13, "labelPadding": 4, "labelFontSize": 20, "title": "m/z 28:44 ratio", "titlePadding": 8}}
            }
          },
          {
            "data": {"values": [{"t": -2.2, "v": 10.6, "s": "C"}]},
            "mark": {"type": "text", "fontSize": 21, "color": "black"},
            "encoding": {
              "x": {"field": "t", "type": "quantitative", "scale": {"domain": [-2.46, 6.15], "nice": false, "zero": false}, "axis": null},
              "y": {"field": "v", "type": "quantitative", "scale": {"domain": [-0.27, 11.47], "nice": false, "zero": false},
                "axis": {"orient": "right", "values": [0,2,4,6,8,10], "labels": false, "title": null, "domain": true, "tickSize": 8}},
              "text": {"field": "s"}
            }
          }
        ]
      }
    ]
  }
]
}
